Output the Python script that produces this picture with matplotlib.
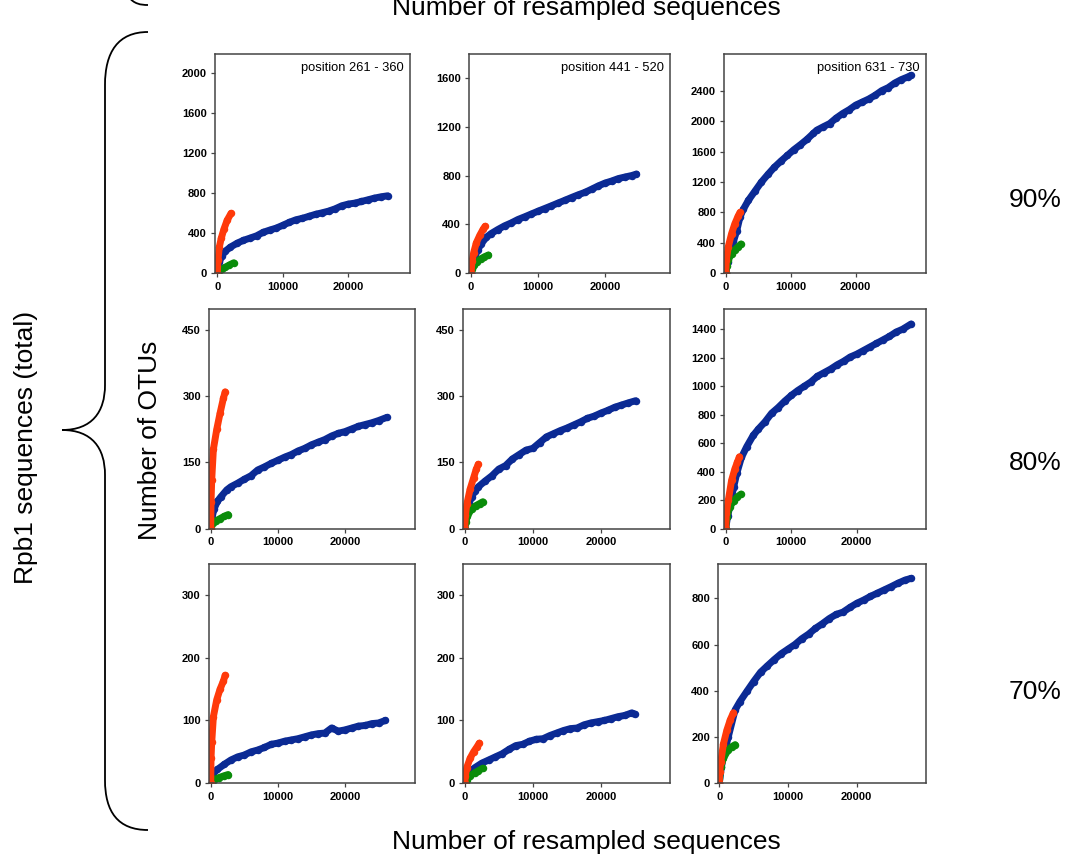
import matplotlib
matplotlib.use("Agg")
import matplotlib.pyplot as plt
from matplotlib.path import Path
from matplotlib.patches import PathPatch

# ---------------- data ----------------
positions = ["position 261 - 360", "position 441 - 520", "position 631 - 730"]
identities = ["90%", "80%", "70%"]
x_ticks = [0, 10000, 20000]
y_ticks_90 = [[0, 400, 800, 1200, 1600, 2000], [0, 400, 800, 1200, 1600], [0, 400, 800, 1200, 1600, 2000, 2400]]
y_ticks_80 = [[0, 150, 300, 450], [0, 150, 300, 450], [0, 200, 400, 600, 800, 1000, 1200, 1400]]
y_ticks_70 = [[0, 100, 200, 300], [0, 100, 200, 300], [0, 200, 400, 600, 800]]

# 90% / position 261-360
blue_x_90_261 = [0, 300, 700, 1200, 2000, 3000, 4000, 5000, 6000, 7000, 8000, 9000, 10000, 11000, 12000, 13000, 14000, 15000, 16000, 17000, 18000, 19000, 20000, 21000, 22000, 23000, 24000, 25000, 26000]
blue_y_90_261 = [0, 110, 175, 220, 262, 300, 330, 352, 375, 410, 432, 452, 480, 510, 535, 550, 570, 590, 605, 622, 645, 675, 692, 702, 718, 735, 752, 765, 775]
red_x_90_261 = [0, 100, 300, 600, 1000, 1500, 2100]
red_y_90_261 = [0, 130, 260, 350, 440, 530, 600]
green_x_90_261 = [0, 300, 700, 1200, 1800, 2500]
green_y_90_261 = [0, 20, 38, 60, 82, 105]

# 90% / position 441-520
blue_x_90_441 = [0, 300, 600, 1000, 1500, 2300, 3000, 4000, 5000, 6000, 7000, 8000, 9000, 10000, 11000, 12000, 13000, 14000, 15000, 16000, 17000, 18000, 19000, 20000, 21000, 22000, 23000, 24000, 24700]
blue_y_90_441 = [0, 90, 140, 190, 240, 295, 325, 358, 388, 412, 440, 462, 485, 508, 530, 552, 575, 597, 620, 642, 662, 688, 715, 738, 755, 775, 788, 800, 812]
red_x_90_441 = [0, 150, 400, 800, 1300, 1800, 2100]
red_y_90_441 = [0, 100, 170, 250, 310, 360, 385]
green_x_90_441 = [0, 200, 500, 900, 1500, 2000, 2600]
green_y_90_441 = [0, 35, 65, 95, 120, 135, 150]

# 90% / position 631-730
blue_x_90_631 = [0, 300, 700, 1200, 1700, 2200, 2700, 3500, 4500, 5500, 6500, 7500, 8500, 9500, 10500, 11500, 12500, 13500, 14000, 15000, 16000, 17000, 18000, 19000, 20000, 21000, 22000, 23000, 24000, 25000, 26000, 27000, 28000, 28500]
blue_y_90_631 = [0, 150, 280, 420, 560, 740, 840, 960, 1080, 1200, 1300, 1395, 1475, 1550, 1625, 1690, 1760, 1840, 1880, 1925, 1968, 2040, 2100, 2150, 2210, 2250, 2290, 2340, 2400, 2440, 2500, 2545, 2580, 2600]
red_x_90_631 = [0, 100, 400, 900, 1400, 1900, 2200]
red_y_90_631 = [0, 180, 350, 520, 650, 750, 800]
green_x_90_631 = [0, 150, 400, 900, 1400, 1900, 2350]
green_y_90_631 = [0, 90, 175, 260, 310, 350, 385]

# 80% / position 261-360
blue_x_80_261 = [0, 200, 500, 1000, 1500, 2400, 3000, 4000, 5000, 6000, 7000, 8000, 9000, 10000, 11000, 12000, 13000, 14000, 15000, 16000, 17000, 18000, 19000, 20000, 21000, 22000, 23000, 24000, 25000, 26200]
blue_y_80_261 = [0, 25, 45, 62, 72, 88, 95, 103, 112, 120, 133, 140, 148, 155, 162, 168, 176, 182, 190, 196, 202, 210, 216, 220, 226, 232, 236, 240, 245, 252]
red_x_80_261 = [0, 50, 150, 400, 900, 1400, 1900, 2150]
red_y_80_261 = [0, 60, 110, 180, 225, 262, 296, 310]
green_x_80_261 = [0, 300, 800, 1400, 2000, 2600]
green_y_80_261 = [5, 12, 18, 23, 28, 32]

# 80% / position 441-520
blue_x_80_441 = [0, 300, 600, 1000, 1500, 2000, 3000, 4000, 5000, 6000, 7000, 8000, 9000, 10000, 11000, 12000, 13000, 14000, 15000, 16000, 17000, 18000, 19000, 20000, 21000, 22000, 23000, 24000, 25100]
blue_y_80_441 = [0, 35, 55, 72, 85, 95, 108, 120, 135, 143, 158, 168, 178, 182, 195, 208, 215, 222, 228, 235, 242, 250, 255, 262, 268, 275, 280, 285, 290]
red_x_80_441 = [0, 100, 300, 800, 1300, 1700, 2000]
red_y_80_441 = [0, 30, 55, 90, 115, 135, 146]
green_x_80_441 = [0, 150, 400, 1000, 1600, 2200, 2650]
green_y_80_441 = [0, 15, 28, 45, 52, 57, 61]

# 80% / position 631-730
blue_x_80_631 = [0, 300, 700, 1200, 1700, 2400, 3200, 4200, 5000, 6000, 7000, 8000, 9000, 10000, 11000, 12000, 13000, 14000, 15000, 16000, 17000, 18000, 19000, 20000, 21000, 22000, 23000, 24000, 25000, 26000, 27000, 28300]
blue_y_80_631 = [0, 90, 170, 290, 390, 500, 575, 655, 700, 750, 810, 850, 895, 935, 970, 1000, 1030, 1070, 1095, 1120, 1150, 1175, 1205, 1225, 1250, 1275, 1300, 1325, 1350, 1380, 1400, 1437]
red_x_80_631 = [0, 100, 400, 900, 1400, 1800, 2100]
red_y_80_631 = [0, 110, 200, 340, 420, 470, 505]
green_x_80_631 = [0, 150, 600, 1200, 1800, 2350]
green_y_80_631 = [0, 80, 150, 195, 225, 243]

# 70% / position 261-360
blue_x_70_261 = [0, 400, 1000, 2000, 3000, 4000, 5000, 6000, 7000, 8000, 9000, 10000, 11000, 12000, 13000, 14000, 15000, 16000, 17000, 18000, 19000, 20000, 21000, 22000, 23000, 24000, 25000, 26000]
blue_y_70_261 = [5, 16, 22, 30, 37, 42, 45, 50, 53, 57, 62, 64, 67, 69, 71, 74, 77, 79, 80, 88, 83, 85, 88, 91, 92, 95, 96, 100]
red_x_70_261 = [0, 50, 150, 400, 900, 1400, 1900, 2150]
red_y_70_261 = [0, 40, 65, 106, 133, 150, 163, 172]
green_x_70_261 = [0, 500, 1200, 2000, 2600]
green_y_70_261 = [3, 6, 9, 12, 14]

# 70% / position 441-520
blue_x_70_441 = [0, 400, 800, 1500, 2500, 3500, 4500, 5500, 6500, 7500, 8500, 9500, 10500, 11500, 12500, 13500, 14500, 15500, 16500, 17500, 18500, 19500, 20500, 21500, 22500, 23500, 24500, 25000]
blue_y_70_441 = [0, 14, 19, 25, 32, 37, 42, 47, 54, 60, 62, 67, 70, 71, 76, 80, 84, 87, 88, 93, 96, 98, 100, 103, 106, 108, 112, 110]
red_x_70_441 = [0, 100, 300, 800, 1300, 1800, 2150]
red_y_70_441 = [0, 12, 25, 40, 50, 58, 64]
green_x_70_441 = [0, 300, 800, 1500, 2000, 2650]
green_y_70_441 = [0, 6, 12, 17, 20, 24]

# 70% / position 631-730
blue_x_70_631 = [0, 300, 600, 1300, 2300, 3000, 4000, 5000, 6000, 7000, 8000, 9000, 10000, 11000, 12000, 13000, 14000, 15000, 16000, 17000, 18000, 19000, 20000, 21000, 22000, 23000, 24000, 25000, 26000, 27000, 27900]
blue_y_70_631 = [0, 70, 115, 200, 317, 353, 397, 440, 480, 508, 535, 560, 580, 600, 625, 645, 670, 690, 712, 730, 740, 760, 778, 792, 808, 822, 836, 850, 865, 878, 886]
red_x_70_631 = [0, 50, 200, 600, 1100, 1600, 2050]
red_y_70_631 = [0, 50, 90, 170, 230, 275, 305]
green_x_70_631 = [0, 200, 600, 1300, 1800, 2300]
green_y_70_631 = [0, 70, 108, 145, 158, 167]

# ---------------- layout (pixels) ----------------
W, H = 1073, 861
BLUE, RED, GREEN = "#0B2A94", "#FF3A0A", "#0A8C0A"
FONT = "Liberation Sans"

rows_top_bottom = [(54, 273.3), (309.3, 528.7), (564, 783.3)]
cols_left_right = [
    [(215, 410), (469.3, 670), (724.3, 925.7)],
    [(209.3, 415), (463.3, 670), (724.3, 925.7)],
    [(209, 415), (463.3, 670), (718.3, 925.7)],
]
xlims = [
    [(-351, 29420), (-254, 29700), (-215, 30770)],
    [(-208, 30420), (-205, 30130), (-214, 30530)],
    [(-253, 30420), (-205, 30130), (-146, 30040)],
]
ylims = [[2193, 1794, 2882], [497, 497, 1540], [349, 349, 948]]

series = [
    [(blue_x_90_261, blue_y_90_261, red_x_90_261, red_y_90_261, green_x_90_261, green_y_90_261),
     (blue_x_90_441, blue_y_90_441, red_x_90_441, red_y_90_441, green_x_90_441, green_y_90_441),
     (blue_x_90_631, blue_y_90_631, red_x_90_631, red_y_90_631, green_x_90_631, green_y_90_631)],
    [(blue_x_80_261, blue_y_80_261, red_x_80_261, red_y_80_261, green_x_80_261, green_y_80_261),
     (blue_x_80_441, blue_y_80_441, red_x_80_441, red_y_80_441, green_x_80_441, green_y_80_441),
     (blue_x_80_631, blue_y_80_631, red_x_80_631, red_y_80_631, green_x_80_631, green_y_80_631)],
    [(blue_x_70_261, blue_y_70_261, red_x_70_261, red_y_70_261, green_x_70_261, green_y_70_261),
     (blue_x_70_441, blue_y_70_441, red_x_70_441, red_y_70_441, green_x_70_441, green_y_70_441),
     (blue_x_70_631, blue_y_70_631, red_x_70_631, red_y_70_631, green_x_70_631, green_y_70_631)],
]
yticks_all = [y_ticks_90, y_ticks_80, y_ticks_70]

fig = plt.figure(figsize=(W / 100, H / 100), dpi=100)

def box(x0, x1, y0, y1):
    return [x0 / W, 1 - y1 / H, (x1 - x0) / W, (y1 - y0) / H]

for r in range(3):
    y0, y1 = rows_top_bottom[r]
    for c in range(3):
        x0, x1 = cols_left_right[r][c]
        ax = fig.add_axes(box(x0, x1, y0, y1))
        bx, by, rx, ry, gx, gy = series[r][c]
        for xs, ys, col in ((bx, by, BLUE), (gx, gy, GREEN), (rx, ry, RED)):
            ax.plot(xs, ys, color=col, lw=5.0, solid_capstyle="round",
                    solid_joinstyle="round", marker="o", markersize=5.4,
                    markeredgewidth=0)
        ax.set_xlim(*xlims[r][c])
        ax.set_ylim(0, ylims[r][c])
        ax.set_xticks(x_ticks)
        ax.set_yticks(yticks_all[r][c])
        ax.set_xticklabels([str(v) for v in x_ticks])
        ax.set_yticklabels([str(v) for v in yticks_all[r][c]])
        ax.tick_params(axis="both", direction="out", length=3, width=0.9,
                       color="#444444", pad=3, labelsize=8)
        for lab in ax.get_xticklabels() + ax.get_yticklabels():
            lab.set_fontweight("bold")
            lab.set_fontfamily(FONT)
        for sp in ax.spines.values():
            sp.set_color("#444444")
            sp.set_linewidth(1.1)
        if r == 0:
            ax.text(0.97, 0.965, positions[c], transform=ax.transAxes,
                    ha="right", va="top", fontsize=9.3, family=FONT)

# overlay for labels and braces (pixel coordinates)
ov = fig.add_axes([0, 0, 1, 1])
ov.set_xlim(0, W)
ov.set_ylim(H, 0)
ov.axis("off")
ov.patch.set_alpha(0)

def brace(shift):
    verts = [
        (148, 32), (118, 32), (105, 52), (105, 85),
        (105, 385),
        (105, 412), (92, 430), (62, 430),
        (92, 430), (105, 448), (105, 475),
        (105, 780),
        (105, 812), (118, 830), (148, 830),
    ]
    codes = [Path.MOVETO, Path.CURVE4, Path.CURVE4, Path.CURVE4,
             Path.LINETO,
             Path.CURVE4, Path.CURVE4, Path.CURVE4,
             Path.CURVE4, Path.CURVE4, Path.CURVE4,
             Path.LINETO,
             Path.CURVE4, Path.CURVE4, Path.CURVE4]
    verts = [(x, y + shift) for x, y in verts]
    return PathPatch(Path(verts, codes), facecolor="none", edgecolor="black", lw=1.3)

ov.add_patch(brace(0))
ov.add_patch(brace(-825))

# the reference shows the tail of the previous block's axis label, cut by the top edge
ov.text(586, 15, "Number of resampled sequences", ha="center", va="baseline",
        fontsize=19, family=FONT)
ov.text(586, 842, "Number of resampled sequences", ha="center", va="center",
        fontsize=19, family=FONT)
ov.text(150, 440, "Number of OTUs", ha="center", va="center", rotation=90,
        fontsize=19, family=FONT)
ov.text(26, 447, "Rpb1 sequences (total)", ha="center", va="center", rotation=90,
        fontsize=19, family=FONT)
for lab, yc in zip(identities, [200, 463, 692]):
    ov.text(1035, yc, lab, ha="center", va="center", fontsize=19, family=FONT)

fig.savefig("out.png", dpi=100)
